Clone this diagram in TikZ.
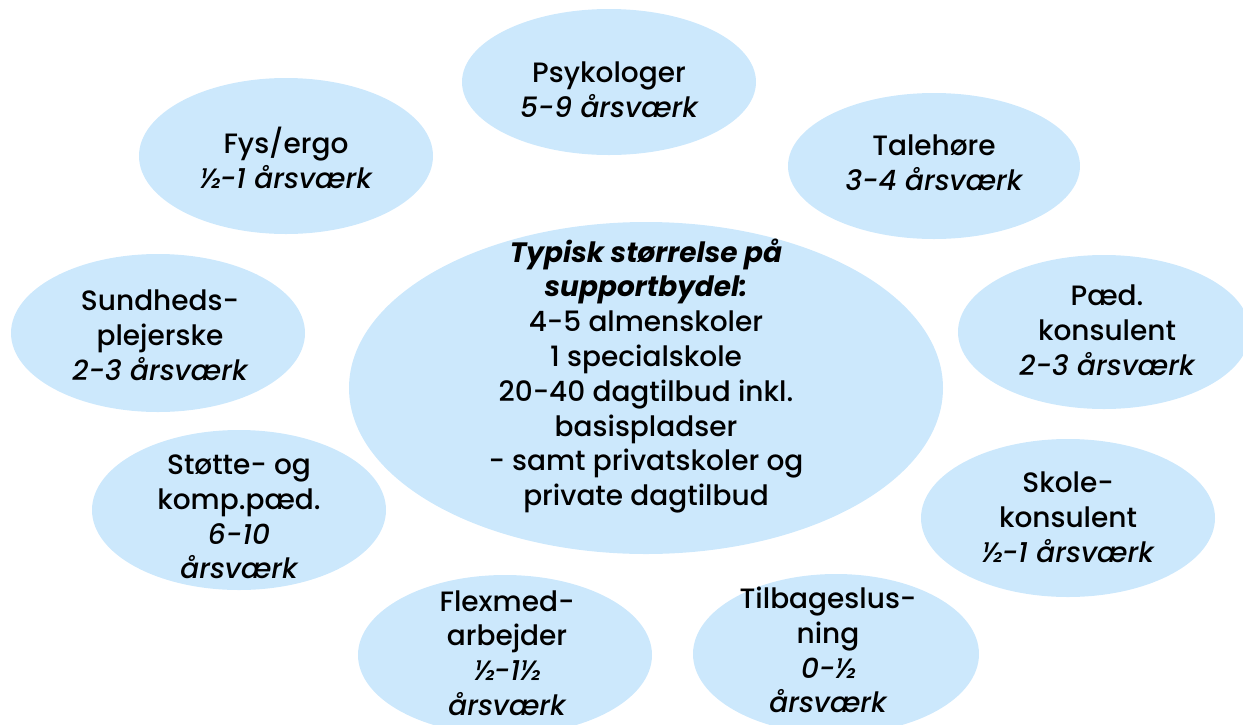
\documentclass[tikz,border=0pt]{standalone}
\usepackage{fontspec}
\setmainfont{Poppins}[UprightFont=* Medium, ItalicFont=* Medium Italic, BoldFont=* Bold, BoldItalicFont=* Bold Italic]
\usetikzlibrary{shapes.geometric}
\definecolor{bubble}{RGB}{204,232,252}
\tikzset{
  blob/.style={ellipse, fill=bubble, draw=none, inner sep=0pt},
  lbl/.style={align=center, inner sep=0pt, font=\fontsize{28}{34.8}\selectfont},
}
\begin{document}
\begin{tikzpicture}[x=1pt,y=-1pt]
\useasboundingbox (0,0) rectangle (1243,724);
% bubbles
\node[blob, minimum width=294pt, minimum height=146pt] (psy) at (609,82) {};
\node[blob, minimum width=294pt, minimum height=156pt] (fys) at (286,156) {};
\node[blob, minimum width=292pt, minimum height=146pt] (tal) at (934,166) {};
\node[blob, minimum width=294pt, minimum height=158pt] (sun) at (158,333) {};
\node[blob, minimum width=594pt, minimum height=332pt] (cen) at (646,388) {};
\node[blob, minimum width=292pt, minimum height=154pt] (paed) at (1104,332) {};
\node[blob, minimum width=294pt, minimum height=160pt] (sto) at (239,510) {};
\node[blob, minimum width=294pt, minimum height=158pt] (sko) at (1068,518) {};
\node[blob, minimum width=294pt, minimum height=160pt] (flx) at (505,655) {};
\node[blob, minimum width=286pt, minimum height=160pt] (til) at (836,654) {};
% texts
\node[lbl] (psyT) at (609,90) {Psykologer\\\itshape 5-9 årsværk};
\node[lbl] (fysT) at (286,158) {Fys/ergo\\\itshape ½-1 årsværk};
\node[lbl] (talT) at (934,163) {Talehøre\\\itshape 3-4 årsværk};
\node[lbl] (sunT) at (160,335) {Sundheds-\\plejerske\\\itshape 2-3 årsværk};
\node[lbl] (cenT) at (646,376) {{\bfseries\itshape Typisk størrelse på}\\{\bfseries\itshape supportbydel:}\\4-5 almenskoler\\1 specialskole\\20-40 dagtilbud inkl.\\basispladser\\- samt privatskoler og\\private dagtilbud};
\node[lbl] (paedT) at (1107,330) {Pæd.\\konsulent\\\itshape 2-3 årsværk};
\node[lbl] (stoT) at (239,517) {Støtte- og\\komp.pæd.\\\itshape 6-10\\\itshape årsværk};
\node[lbl] (skoT) at (1068,517) {Skole-\\konsulent\\\itshape ½-1 årsværk};
\node[lbl] (flxT) at (507,653) {Flexmed-\\arbejder\\\itshape ½-1½\\\itshape årsværk};
\node[lbl] (tilT) at (828,650) {Tilbageslus-\\ning\\\itshape 0-½\\\itshape årsværk};
\end{tikzpicture}
\end{document}
